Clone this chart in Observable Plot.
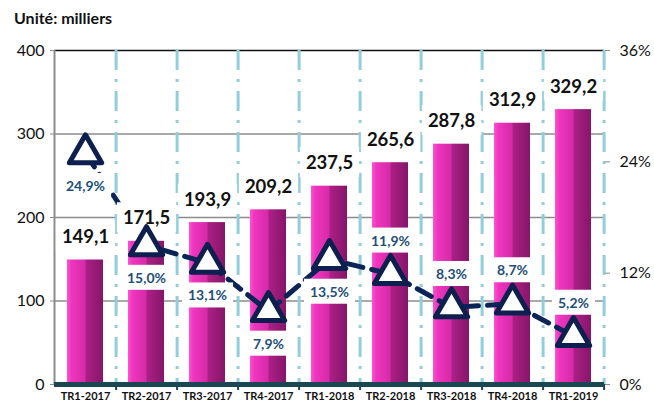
<!DOCTYPE html>
<html>
<head>
<meta charset="utf-8">
<script src="https://cdn.jsdelivr.net/npm/d3@7"></script>
<script src="https://cdn.jsdelivr.net/npm/@observablehq/plot@0.6"></script>
<style>
  html, body { margin: 0; padding: 0; background: #fff; }
  #wrap { position: relative; width: 654px; height: 408px; font-family: Lato, "Open Sans", sans-serif; }
  #title { position: absolute; left: 14px; top: 8px; font-weight: bold; font-size: 16px; color: #111; }
</style>
</head>
<body>
<div id="wrap"><div id="title">Unité: milliers</div></div>
<script>
const quarters = ["TR1-2017","TR2-2017","TR3-2017","TR4-2017","TR1-2018","TR2-2018","TR3-2018","TR4-2018","TR1-2019"];
const volumes = [149.1, 171.5, 193.9, 209.2, 237.5, 265.6, 287.8, 312.9, 329.2];
const growth = [24.9, 15.0, 13.1, 7.9, 13.5, 11.9, 8.3, 8.7, 5.2];
const leftTicks = [0, 100, 200, 300, 400];
const rightTicks = [0, 12, 24, 36];

const yMax = 400, pMax = 36;
const toY = p => p * yMax / pMax;
const fmt = v => v.toFixed(1).replace(".", ",");

const data = quarters.map((q, i) => ({q, v: volumes[i], p: growth[i], py: toY(growth[i]), i}));

const defs = () => {
  const ns = "http://www.w3.org/2000/svg";
  const d = document.createElementNS(ns, "defs");
  d.innerHTML = `<linearGradient id="barGrad" x1="0" x2="1" y1="0" y2="0">
      <stop offset="0" stop-color="#ff52d2"/>
      <stop offset="0.12" stop-color="#ee36bf"/>
      <stop offset="0.5" stop-color="#d62aa8"/>
      <stop offset="0.53" stop-color="#ab2085"/>
      <stop offset="1" stop-color="#86156a"/>
    </linearGradient>`;
  return d;
};

const fontFam = "Lato, 'Open Sans', sans-serif";

const chart = Plot.plot({
  width: 654,
  height: 408,
  marginTop: 50,
  marginBottom: 24,
  marginLeft: 54,
  marginRight: 50,
  style: {fontFamily: fontFam, background: "transparent"},
  x: {type: "band", domain: quarters, paddingInner: 0.41, paddingOuter: 0.205, label: null},
  y: {domain: [0, yMax], label: null},
  marks: [
    defs,
    Plot.ruleY([100, 200, 300], {stroke: "#8c8c8c", strokeWidth: 1.5}),
    Plot.ruleY([400], {stroke: "#111", strokeWidth: 1.5}),
    Plot.ruleX(quarters, {x: d => d, dx: 30.6, stroke: "#92cddc", strokeWidth: 3, strokeDasharray: "20 9 3 9"}),
    Plot.barY(data, {x: "q", y: "v", fill: "url(#barGrad)"}),
    Plot.ruleX([quarters[0]], {dx: -31, stroke: "#8c8c8c", strokeWidth: 2}),
    Plot.ruleX(quarters, {x: d => d, dx: 30.6, y1: 0, y2: 0, insetBottom: -6, stroke: "#1b4752", strokeWidth: 2}),
    Plot.ruleY([0], {stroke: "#1b4752", strokeWidth: 5}),
    Plot.axisY({ticks: leftTicks, anchor: "left", tickSize: 4, tickPadding: 6, fontSize: 16, stroke: "#8c8c8c", fill: "#111"}),
    Plot.axisY({ticks: rightTicks.map(toY), anchor: "right", tickSize: 5, tickPadding: 10, fontSize: 16, stroke: "#8c8c8c", fill: "#111", tickFormat: d => Math.round(d * pMax / yMax) + "%"}),
    Plot.axisX({tickSize: 0, tickPadding: 8, fontSize: 11, fontWeight: "bold", fill: "#111"}),
    Plot.line(data, {x: "q", y: "py", stroke: "#0b2457", strokeWidth: 5, strokeDasharray: "16 9"}),
    Plot.text(data, {x: "q", y: "v", text: d => fmt(d.v), dy: -23, fontSize: 18.5, fontWeight: "bold", fill: "#111"}),
    Plot.text(data, {x: "q", y: "py", text: d => fmt(d.p) + "%", fontSize: 14, fontWeight: "bold", fill: "#1f4e79"}),
    Plot.dot(data, {x: "q", y: "py", symbol: "triangle", r: 12, fill: "#fff", stroke: "#0c1f4f", strokeWidth: 5, strokeLinejoin: "round"})
  ]
});

document.getElementById("wrap").appendChild(chart);

// percent labels: below for the first five points, above afterwards
const groups = chart.querySelectorAll('g[aria-label="text"]');
const pctTexts = groups[1].querySelectorAll("text");
pctTexts.forEach((t, i) => {
  const off = i < 5 ? 33 : -33;
  const tr = t.getAttribute("transform") || "";
  t.setAttribute("transform", tr + ` translate(0,${off})`);
});
// white boxes behind labels
groups.forEach((g, gi) => {
  g.querySelectorAll("text").forEach(t => {
    const b = t.getBBox();
    const padX = 6, padY = 4;
    const r = document.createElementNS("http://www.w3.org/2000/svg", "rect");
    r.setAttribute("x", b.x - padX);
    r.setAttribute("y", b.y - padY);
    r.setAttribute("width", b.width + 2 * padX);
    r.setAttribute("height", b.height + 2 * padY);
    r.setAttribute("fill", "#fff");
    const tr = t.getAttribute("transform");
    if (tr) r.setAttribute("transform", tr);
    g.insertBefore(r, t);
  });
});
</script>
</body>
</html>
